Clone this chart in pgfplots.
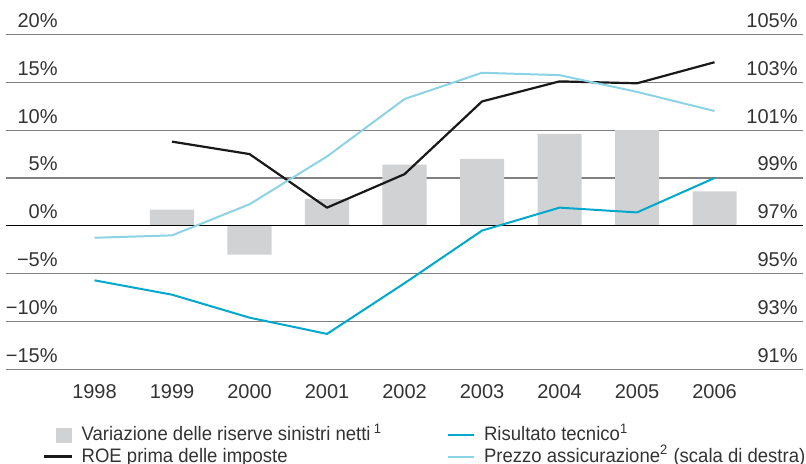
\documentclass[border=0pt]{standalone}
\usepackage{pgfplots}
\pgfplotsset{compat=1.18}
\usepackage{fontspec}
\setmainfont{Liberation Sans}
\newfontfamily\legfont{Liberation Sans}[FakeStretch=0.95]
\definecolor{barc}{HTML}{D1D2D4}
\definecolor{risc}{HTML}{00A8CC}
\definecolor{prezc}{HTML}{8DD3E6}
\definecolor{gridc}{HTML}{808080}
\definecolor{txtc}{HTML}{333333}
\begin{document}
\begin{tikzpicture}
\pgfplotsset{
  common/.style={
    scale only axis, width=398.5pt, height=167.4pt,
    xmin=1996.858, xmax=2007.142,
    axis line style={draw=none}, tick style={draw=none},
    every tick label/.append style={font=\fontsize{10}{12}\selectfont, text=txtc},
    clip=false,
  }
}
\begin{axis}[common, name=ax,
  ymin=-15, ymax=20,
  ytick={-15,-10,-5,0,5,10,15,20},
  yticklabels={−15\%,−10\%,−5\%,0\%,5\%,10\%,15\%,20\%},
  yticklabel style={anchor=base east, inner sep=0pt, xshift=26pt, yshift=3.5pt},
  xtick={1998,1999,2000,2001,2002,2003,2004,2005,2006},
  xticklabels={1998,1999,2000,2001,2002,2003,2004,2005,2006},
  xticklabel style={anchor=base, inner sep=0pt, yshift=-14.5pt},
  ymajorgrids, major grid style={color=gridc, line width=0.65pt},
  legend columns=2, legend cell align=left,
  legend style={at={(0.0464,-0.1649)}, anchor=north west, draw=none, fill=none,
    inner sep=0pt, outer sep=0pt, font=\legfont\fontsize{9.75}{11}\selectfont,
    nodes={inner sep=0pt, text height=8pt, text depth=2.5pt, text=txtc},
    row sep=0.25pt,
    /tikz/every odd column/.append style={column sep=4.4pt},
    /tikz/every even column/.append style={column sep=0pt}},
]
\addplot[ybar, bar width=0.568, bar shift=0pt, fill=barc, draw=none,
  legend image code/.code={\fill[barc] (5.85pt,-3.75pt) rectangle (13.85pt,3.75pt);}]
  coordinates {(1999,1.7) (2000,-3.0) (2001,2.8) (2002,6.4) (2003,7.0) (2004,9.6) (2005,10.0) (2006,3.6)};
\addlegendentry{\makebox[182.5pt][l]{Variazione delle riserve sinistri netti\,\textsuperscript{1}}}
\draw[black, line width=0.6pt] (axis cs:1996.858,0) -- (axis cs:2007.142,0);
\addplot[risc, line width=1pt, line join=round,
  legend image code/.code={\draw[risc, line width=1pt] (0pt,0pt) -- (13.3pt,0pt);}]
  coordinates {(1998,-5.7) (1999,-7.2) (2000,-9.6) (2001,-11.3) (2002,-6.0) (2003,-0.5) (2004,1.9) (2005,1.4) (2006,5.0)};
\addlegendentry{Risultato tecnico\textsuperscript{1}}
\addplot[black!90, line width=1.1pt, line join=round,
  legend image code/.code={\draw[black!90, line width=1.1pt] (0pt,0pt) -- (13.85pt,0pt);}]
  coordinates {(1999,8.8) (2000,7.5) (2001,1.9) (2002,5.4) (2003,13.0) (2004,15.1) (2005,14.9) (2006,17.1)};
\addlegendentry{\makebox[182.5pt][l]{ROE prima delle imposte}}
\addlegendimage{prezc, line width=1pt,
  legend image code/.code={\draw[prezc, line width=1pt] (0pt,0pt) -- (13.3pt,0pt);}}
\addlegendentry{Prezzo assicurazione\textsuperscript{2} (scala di destra)}
\end{axis}
\begin{axis}[common,
  ymin=91, ymax=105,
  ytick={91,93,95,97,99,101,103,105},
  yticklabels={91\%,93\%,95\%,97\%,99\%,101\%,103\%,105\%},
  yticklabel pos=right,
  yticklabel style={anchor=base east, inner sep=0pt, xshift=-2.5pt, yshift=3.5pt},
  xtick=\empty,
]
\addplot[prezc, line width=1pt, line join=round]
  coordinates {(1998,96.5) (1999,96.6) (2000,97.9) (2001,99.9) (2002,102.3) (2003,103.4) (2004,103.3) (2005,102.6) (2006,101.8)};
\end{axis}
\pgfresetboundingbox
\path ([shift={(-3pt,-47.35pt)}]ax.south west) rectangle ([shift={(1.5pt,17.25pt)}]ax.north east);
\end{tikzpicture}
\end{document}
